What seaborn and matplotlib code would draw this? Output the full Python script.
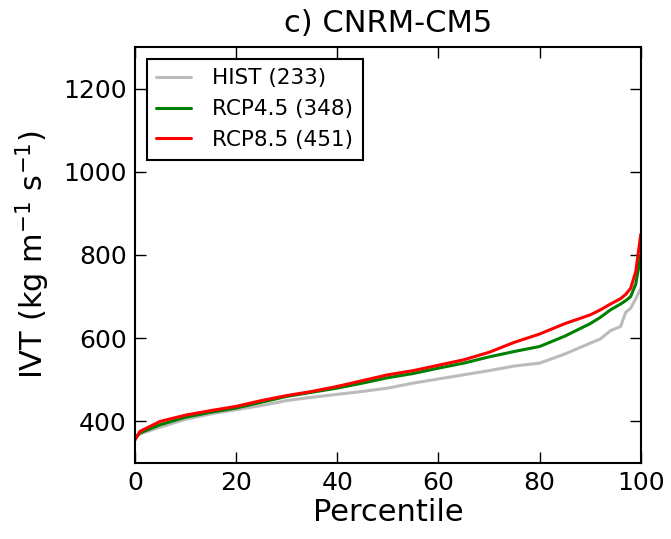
import matplotlib
matplotlib.use("Agg")
import matplotlib.pyplot as plt
import numpy as np
import pandas as pd
import seaborn as sns

# Percentile levels and IVT values (kg m-1 s-1) for each experiment
percentiles = [0, 1, 3, 5, 10, 15, 20, 25, 30, 35, 40, 45, 50, 55, 60,
               65, 70, 75, 80, 85, 90, 92, 94, 96, 97, 98, 99, 100]
hist_ivt = [358, 370, 378, 386, 405, 418, 428, 438, 450, 458, 465, 472, 480, 492, 502,
            512, 522, 533, 540, 562, 588, 598, 618, 628, 662, 672, 695, 720]
rcp45_ivt = [360, 372, 382, 392, 410, 422, 432, 446, 460, 470, 480, 492, 505, 515, 528,
             540, 555, 568, 580, 605, 635, 650, 668, 682, 690, 700, 730, 800]
rcp85_ivt = [355, 376, 388, 400, 415, 426, 436, 450, 462, 472, 484, 498, 512, 522, 535,
             548, 566, 590, 610, 635, 656, 668, 682, 695, 705, 720, 760, 850]
series_names = ["HIST (233)", "RCP4.5 (348)", "RCP8.5 (451)"]
series_colors = ["#bbbbbb", "green", "red"]

frames = []
for name, vals in zip(series_names, [hist_ivt, rcp45_ivt, rcp85_ivt]):
    frames.append(pd.DataFrame({"Percentile": percentiles, "IVT": vals, "Run": name}))
df = pd.concat(frames, ignore_index=True)

sns.set_style("ticks")
plt.rcParams["font.family"] = ["DejaVu Sans"]
plt.rcParams["mathtext.default"] = "regular"
for key in ["text.color", "axes.labelcolor", "xtick.color", "ytick.color", "axes.edgecolor"]:
    plt.rcParams[key] = "black"

fig = plt.figure(figsize=(6.71, 5.39), dpi=100)
ax = fig.add_axes([0.201, 0.141, 0.754, 0.772])

sns.lineplot(data=df, x="Percentile", y="IVT", hue="Run", hue_order=series_names,
             palette=series_colors, linewidth=2.2, ax=ax, legend=True, sort=False)

ax.set_xlim(0, 100)
ax.set_ylim(300, 1300)
ax.set_xticks([0, 20, 40, 60, 80, 100])
ax.set_yticks([400, 600, 800, 1000, 1200])
ax.tick_params(direction="in", length=8, width=1, labelsize=18, top=True, right=True,
               color="black", labelcolor="black", pad=6)
for sp in ax.spines.values():
    sp.set_linewidth(1.5)
    sp.set_color("black")

ax.set_xlabel("Percentile", fontsize=22, labelpad=2, color="black")
ax.set_ylabel("IVT (kg m$^{-1}$ s$^{-1}$)", fontsize=22, labelpad=8, color="black")
ax.set_title("c) CNRM-CM5", fontsize=22, pad=11, color="black")

leg = ax.legend(loc="upper left", fontsize=15.5, frameon=True, fancybox=False,
                handlelength=1.6, handletextpad=1.0, borderpad=0.45,
                labelspacing=0.5, borderaxespad=0.55, title=None)
for t in leg.get_texts():
    t.set_color("black")
leg.get_frame().set_edgecolor("black")
leg.get_frame().set_linewidth(1.5)
leg.get_frame().set_alpha(1)

fig.savefig("out.png", dpi=100)
